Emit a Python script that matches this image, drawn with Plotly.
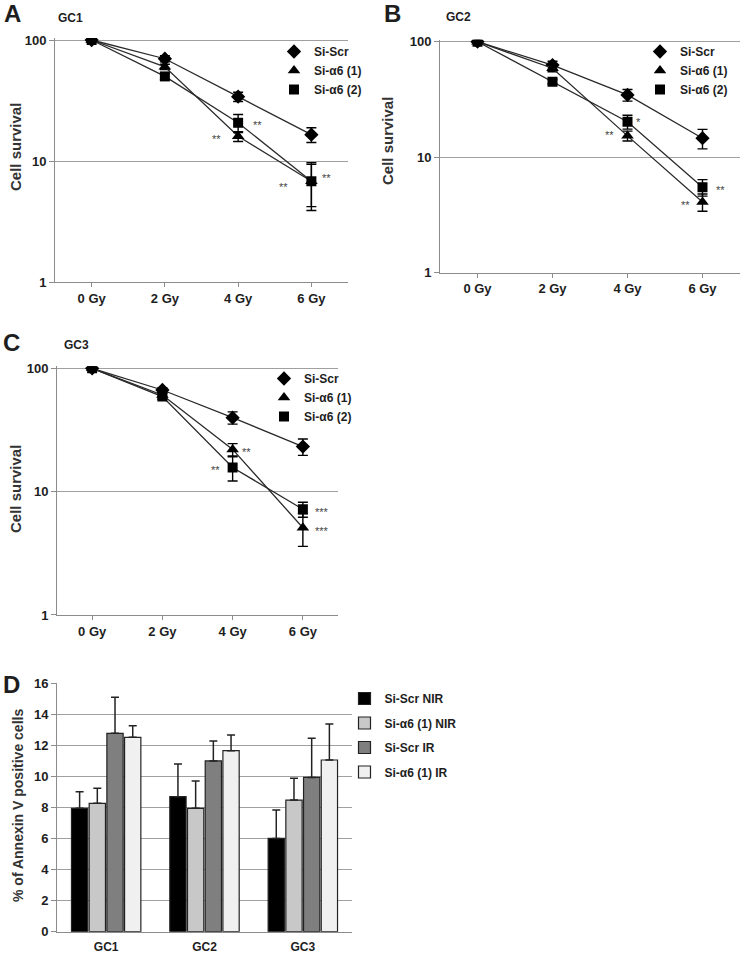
import math
import plotly.graph_objects as go

W, H = 744, 955
def px(x): return x / W
def py(y): return 1 - y / H

# ---------------- data ----------------
doses = ["0 Gy", "2 Gy", "4 Gy", "6 Gy"]
series_names = ["Si-Scr", "Si-α6 (1)", "Si-α6 (2)"]

gc1_scr = [100, 70, 34, 16.5];   gc1_scr_err = [0, 4, 3, 2.3]
gc1_a61 = [100, 60, 16, 6.8];    gc1_a61_err = [0, 3, 1.5, 2.6]
gc1_a62 = [100, 50, 20.7, 6.8];  gc1_a62_err = [0, 3, 3.5, 2.9]

gc2_scr = [100, 62.8, 34.6, 14.6]; gc2_scr_err = [0, 5, 4, 2.8]
gc2_a61 = [100, 58.9, 15.3, 4.1];  gc2_a61_err = [0, 4, 1.5, 0.7]
gc2_a62 = [100, 45, 20.3, 5.5];    gc2_a62_err = [0, 2, 2.8, 0.9]

gc3_scr = [100, 66.7, 39.8, 23.2]; gc3_scr_err = [0, 3, 4.5, 3.5]
gc3_a61 = [100, 60.8, 22, 5.1];    gc3_a61_err = [0, 3, 2.5, 1.5]
gc3_a62 = [100, 59, 15.7, 7.2];    gc3_a62_err = [0, 3, 3.5, 1.0]

cell_lines = ["GC1", "GC2", "GC3"]
bar_names = ["Si-Scr NIR", "Si-α6 (1) NIR", "Si-Scr IR", "Si-α6 (1) IR"]
scr_nir = [7.95, 8.7, 6.01];   scr_nir_err = [1.07, 2.1, 1.83]
a6_nir = [8.27, 7.95, 8.48];   a6_nir_err = [0.97, 1.75, 1.4]
scr_ir = [12.78, 11.0, 9.94];  scr_ir_err = [2.32, 1.28, 2.52]
a6_ir = [12.52, 11.66, 11.06]; a6_ir_err = [0.75, 1.01, 2.32]

# significance marks: (panel, dose, value, text, xshift)
sig_marks = [
    ("A", "4 Gy", 16.0, "**", -22), ("A", "4 Gy", 21.0, "**", 19),
    ("A", "6 Gy", 6.5, "**", -28), ("A", "6 Gy", 7.7, "**", 15),
    ("B", "4 Gy", 16.5, "**", -18), ("B", "4 Gy", 21.5, "*", 11),
    ("B", "6 Gy", 4.1, "**", -17), ("B", "6 Gy", 5.5, "**", 18),
    ("C", "4 Gy", 22.0, "**", 14), ("C", "4 Gy", 15.7, "**", -17),
    ("C", "6 Gy", 7.2, "***", 19), ("C", "6 Gy", 5.1, "***", 19),
]

# ---------------- style ----------------
FONT = "Liberation Sans"
AXC = "#8c8c8c"
GRIDC = "#a0a0a0"
TXT = "#1e1e1e"
symbols = ["diamond", "triangle-up", "square"]
msizes = [11, 11, 10]
LOGTOP = 2.016

fig = go.Figure()

panels = [
    ("A", "", "", "legend", [(gc1_scr, gc1_scr_err), (gc1_a61, gc1_a61_err), (gc1_a62, gc1_a62_err)]),
    ("B", "2", "2", "legend2", [(gc2_scr, gc2_scr_err), (gc2_a61, gc2_a61_err), (gc2_a62, gc2_a62_err)]),
    ("C", "3", "3", "legend3", [(gc3_scr, gc3_scr_err), (gc3_a61, gc3_a61_err), (gc3_a62, gc3_a62_err)]),
]
axis_map = {}
for label, xs, ys, lg, series in panels:
    axis_map[label] = ("x" + xs, "y" + ys)
    for i, (vals, errs) in enumerate(series):
        fig.add_trace(go.Scatter(
            x=doses, y=vals, xaxis="x" + xs, yaxis="y" + ys,
            mode="lines+markers", name=series_names[i], showlegend=False,
            line=dict(color="#2a2a2a", width=1.3),
            marker=dict(symbol=symbols[i], size=msizes[i], color="black"),
            error_y=dict(type="data", array=errs, color="black", thickness=1.4, width=5),
        ))
    for i in range(3):
        fig.add_trace(go.Scatter(
            x=[None], y=[None], xaxis="x" + xs, yaxis="y" + ys,
            mode="markers", name=series_names[i], legend=lg, showlegend=True,
            marker=dict(symbol=symbols[i], size=msizes[i], color="black"),
        ))

bar_colors = ["#000000", "#c8c8c8", "#7f7f7f", "#f0f0f0"]
bar_sets = [(scr_nir, scr_nir_err), (a6_nir, a6_nir_err), (scr_ir, scr_ir_err), (a6_ir, a6_ir_err)]
for i, (vals, errs) in enumerate(bar_sets):
    fig.add_trace(go.Bar(
        x=cell_lines, y=vals, xaxis="x4", yaxis="y4", name=bar_names[i],
        legend="legend4", legendgroup="g%d" % i,
        marker=dict(color=bar_colors[i], line=dict(color="#222222", width=1.2)),
        error_y=dict(type="data", array=errs, arrayminus=[0] * len(errs), symmetric=False,
                     color="#222222", thickness=1.5, width=4),
    ))

def xaxis_line(dom):
    return dict(domain=dom, type="category", range=[-0.5, 3.5], showline=True, linecolor=AXC,
                linewidth=1, ticks="outside", ticklen=4, tickcolor=AXC, showgrid=False,
                zeroline=False, tickfont=dict(family=FONT, size=13, color=TXT, weight="bold"))

def yaxis_log(y_bottom, y_top, anchor):
    # extend range a little above 100 so that the 100 gridline is drawn
    extra = (y_bottom - y_top) / 2 * (LOGTOP - 2)
    return dict(domain=[py(y_bottom), py(y_top - extra)], anchor=anchor, type="log",
                range=[0, LOGTOP], tickvals=[1, 10, 100],
                ticktext=["1", "10", "100"], showline=True, linecolor=AXC, linewidth=1,
                ticks="outside", ticklen=5, tickcolor=AXC, showgrid=True, gridcolor=GRIDC,
                gridwidth=1.2, zeroline=False,
                tickfont=dict(family=FONT, size=13, color=TXT, weight="bold"))

fig.update_layout(
    width=W, height=H, margin=dict(l=0, r=0, t=0, b=0, autoexpand=False),
    paper_bgcolor="white", plot_bgcolor="white",
    barmode="group", bargap=0.28, bargroupgap=0.08,
    xaxis=dict(**xaxis_line([px(55), px(348)]), anchor="y"),
    yaxis=yaxis_log(282, 40, "x"),
    xaxis2=dict(**xaxis_line([px(440), px(740)]), anchor="y2"),
    yaxis2=yaxis_log(272.7, 41.7, "x2"),
    xaxis3=dict(**xaxis_line([px(57), px(338)]), anchor="y3"),
    yaxis3=yaxis_log(615, 368.3, "x3"),
    xaxis4=dict(domain=[px(57), px(352)], anchor="y4", type="category", showline=True,
                linecolor=AXC, linewidth=1, ticks="", showgrid=False, zeroline=False,
                ticklabelstandoff=4,
                tickfont=dict(family=FONT, size=12, color=TXT, weight="bold")),
    yaxis4=dict(domain=[py(931.7), py(683.3)], anchor="x4", range=[0, 16], dtick=2,
                showline=True, linecolor=AXC, linewidth=1, ticks="outside", ticklen=5,
                tickcolor=AXC, showgrid=True, gridcolor=GRIDC, gridwidth=1.2, zeroline=False,
                tickfont=dict(family=FONT, size=13, color=TXT, weight="bold")),
)

leg_common = dict(bgcolor="rgba(0,0,0,0)", borderwidth=0, xanchor="left", yanchor="top",
                  font=dict(family=FONT, size=12, color=TXT, weight="bold"))
fig.update_layout(
    legend=dict(x=px(274), y=py(37), **leg_common),
    legend2=dict(x=px(640), y=py(37), **leg_common),
    legend3=dict(x=px(264), y=py(364), **leg_common),
    legend4=dict(x=px(344.5), y=py(684), tracegroupgap=5.5, **leg_common),
)

ann = []
def text_ann(x, y, text, size, bold=True, color=TXT, angle=0):
    ann.append(dict(x=px(x), y=py(y), xref="paper", yref="paper", text=text, showarrow=False,
                    textangle=angle, xanchor="center", yanchor="middle",
                    font=dict(family=FONT, size=size, color=color, weight="bold" if bold else "normal")))

text_ann(12, 14, "A", 24); text_ann(70, 18, "GC1", 12)
text_ann(392, 14, "B", 24); text_ann(458, 17, "GC2", 12)
text_ann(11, 343, "C", 24); text_ann(76, 345, "GC3", 12)
text_ann(11, 684, "D", 24)
text_ann(15, 147, "Cell survival", 15, color="#333333", angle=-90)
text_ann(387, 141, "Cell survival", 15, color="#333333", angle=-90)
text_ann(15, 489, "Cell survival", 15, color="#333333", angle=-90)
text_ann(18, 806, "% of Annexin V positive cells", 14, color="#333333", angle=-90)

for panel, dose, val, txt, xs in sig_marks:
    xa, ya = axis_map[panel]
    ann.append(dict(x=dose, y=math.log10(val), xref=xa, yref=ya, text=txt, showarrow=False,
                    xshift=xs, yshift=-3, xanchor="center", yanchor="middle",
                    font=dict(family=FONT, size=11, color="#444444")))

fig.update_layout(annotations=ann)
fig.write_html("out.html", config={"displayModeBar": False},
               post_script="document.body.style.margin='0';")
